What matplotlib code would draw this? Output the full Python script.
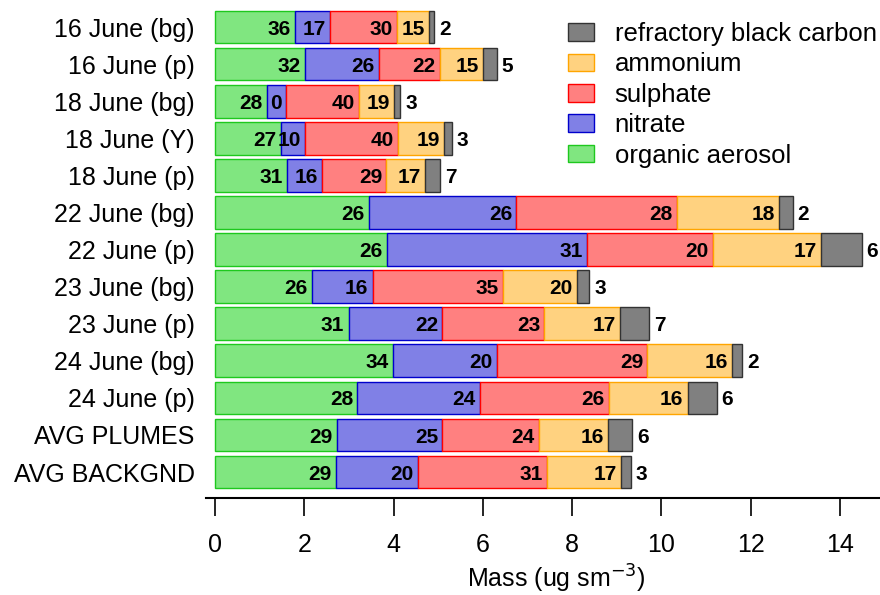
import matplotlib
matplotlib.use('Agg')
import matplotlib.pyplot as plt
import numpy as np

plt.rcParams['font.family'] = ['Liberation Sans', 'DejaVu Sans']

# sample names, top to bottom
rows = ['16 June (bg)', '16 June (p)', '18 June (bg)', '18 June (Y)', '18 June (p)',
        '22 June (bg)', '22 June (p)', '23 June (bg)', '23 June (p)',
        '24 June (bg)', '24 June (p)', 'AVG PLUMES', 'AVG BACKGND']

# mass (ug sm-3) of each component
organic = [1.79, 2.02, 1.16, 1.47, 1.61, 3.45, 3.85, 2.17, 2.99, 3.98, 3.19, 2.73, 2.70]
nitrate = [0.79, 1.65, 0.42, 0.55, 0.78, 3.30, 4.49, 1.36, 2.10, 2.33, 2.74, 2.36, 1.85]
sulphate = [1.49, 1.36, 1.65, 2.09, 1.45, 3.60, 2.81, 2.93, 2.29, 3.38, 2.89, 2.16, 2.88]
ammonium = [0.72, 0.97, 0.79, 1.02, 0.86, 2.29, 2.43, 1.64, 1.69, 1.89, 1.77, 1.56, 1.66]
rbc = [0.12, 0.31, 0.13, 0.17, 0.35, 0.30, 0.91, 0.29, 0.66, 0.23, 0.65, 0.54, 0.22]

# percentage labels as printed on the bars
pct_oa = [36, 32, 28, 27, 31, 26, 26, 26, 31, 34, 28, 29, 29]
pct_no3 = [17, 26, 0, 10, 16, 26, 31, 16, 22, 20, 24, 25, 20]
pct_so4 = [30, 22, 40, 40, 29, 28, 20, 35, 23, 29, 26, 24, 31]
pct_nh4 = [15, 15, 19, 19, 17, 18, 17, 20, 17, 16, 16, 16, 17]
pct_bc = [2, 5, 3, 3, 7, 2, 6, 3, 7, 2, 6, 6, 3]

xticks = [0, 2, 4, 6, 8, 10, 12, 14]

series = [
    ('organic aerosol', organic, pct_oa, '#80E680', '#1EC81E'),
    ('nitrate', nitrate, pct_no3, '#8080E6', '#0000CC'),
    ('sulphate', sulphate, pct_so4, '#FF8080', '#FF0000'),
    ('ammonium', ammonium, pct_nh4, '#FFD280', '#FFA500'),
    ('refractory black carbon', rbc, pct_bc, '#808080', '#333333'),
]

fig = plt.figure(figsize=(8.8, 5.95), dpi=100)
ax = fig.add_axes([205.7 / 880, 97 / 595, 1 - 205.7 / 880, (498 - 8.5) / 595])

y = np.arange(len(rows))
left = np.zeros(len(rows))
handles = []
for name, vals, pcts, fc, ec in series:
    vals = np.array(vals)
    b = ax.barh(y, vals, left=left, height=0.88, color=fc, edgecolor=ec,
                linewidth=1.0, label=name)
    handles.append(b)
    right = left + vals
    for yi, xe, p in zip(y, right, pcts):
        if name == 'refractory black carbon':
            ax.annotate(str(p), (xe, yi), xytext=(3.5, -1.5), textcoords='offset points',
                        ha='left', va='center', fontsize=15, fontweight='bold')
        else:
            ax.annotate(str(p), (xe, yi), xytext=(-3, -1.5), textcoords='offset points',
                        ha='right', va='center', fontsize=15, fontweight='bold')
    left = right

ax.set_ylim(12.7, -0.5)
ax.set_xlim(-0.21, 14.9)
ax.set_yticks(y)
ax.set_yticklabels(rows, fontsize=18)
ax.set_xticks(xticks)
ax.set_xticklabels([str(t) for t in xticks], fontsize=18)
ax.tick_params(axis='y', length=0, pad=8)
ax.tick_params(axis='x', direction='out', length=13, width=1.2, pad=12)
for s in ['top', 'right', 'left']:
    ax.spines[s].set_visible(False)
ax.spines['bottom'].set_linewidth(1.5)

ax.set_xlabel('Mass (ug sm$^{-3}$)', fontsize=18)
ax.xaxis.set_label_coords((556 - 205.7) / (880 - 205.7), -0.132)

leg = ax.legend(handles[::-1], [s[0] for s in series][::-1], loc='upper left',
                bbox_to_anchor=((553 - 205.7) / (880 - 205.7), 1.004), frameon=False,
                fontsize=18.5, handlelength=1.0, handleheight=0.68,
                handletextpad=0.8, labelspacing=0.25, borderaxespad=0.2)

fig.savefig('out.png', dpi=100)
